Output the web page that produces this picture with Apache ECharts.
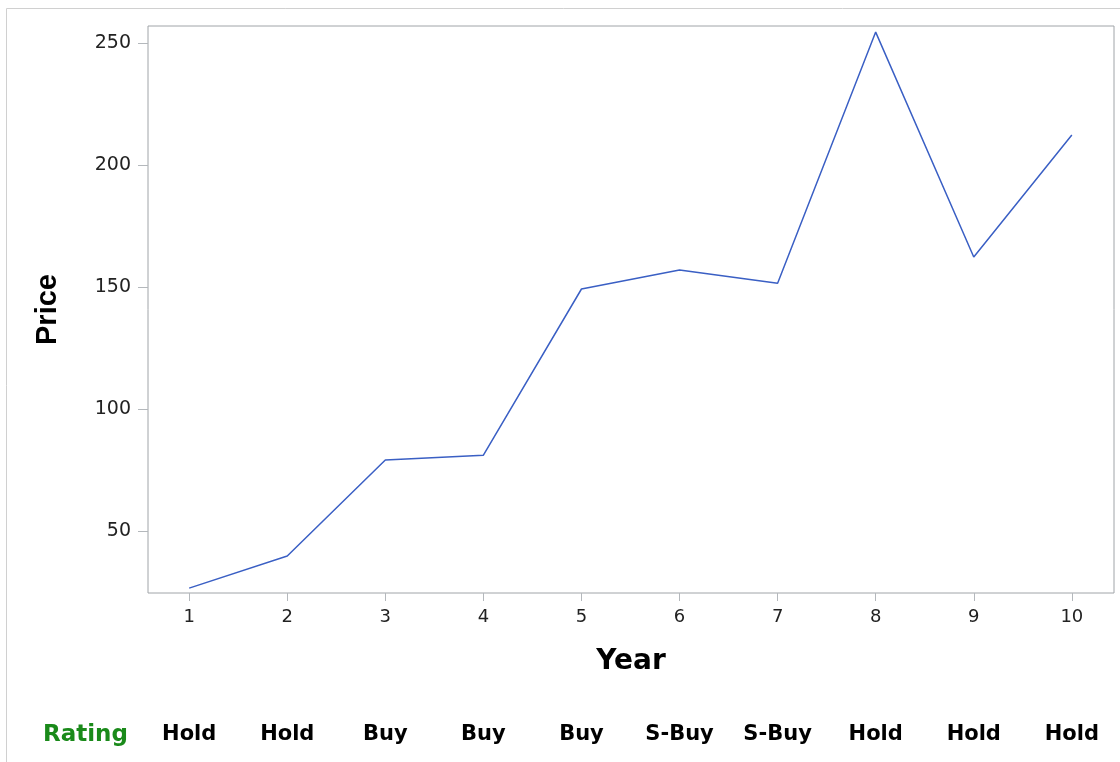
<!DOCTYPE html>
<html><head><meta charset="utf-8">
<script src="https://cdn.jsdelivr.net/npm/echarts@6/dist/echarts.min.js"></script>
<style>html,body{margin:0;padding:0;background:#fff}#c{width:1120px;height:762px}</style>
</head><body><div id="c"></div>
<script>
const years = [1,2,3,4,5,6,7,8,9,10];
const prices = [26.6,39.8,79.1,81.1,149.2,157,151.6,254.5,162.3,212.3];
const ratings = ['Hold','Hold','Buy','Buy','Buy','S-Buy','S-Buy','Hold','Hold','Hold'];
const yTicks = [50,100,150,200,250];

const chart = echarts.init(document.getElementById('c'));
const font = 'DejaVu Sans';
chart.setOption({
  animation:false,
  graphic:[
    {type:'rect', shape:{x:6.5,y:8.5,width:1130,height:800}, style:{fill:'none',stroke:'#d0d0d0',lineWidth:1}},
    {type:'text', left:43, top:724, style:{text:'Rating', fill:'#1a8a1a', font:'bold 23px "DejaVu Sans"'}}
  ],
  grid:{left:148,top:26,right:6,bottom:169, show:true, borderColor:'#a0a4a8', borderWidth:1},
  xAxis:[{
    type:'value', min:0.58, max:10.43,
    name:'Year', nameLocation:'middle', nameGap:55,
    nameTextStyle:{fontFamily:font, fontWeight:'bold', fontSize:28, color:'#000'},
    axisLine:{show:false},
    axisTick:{show:true, customValues:years, length:8, lineStyle:{color:'#b4b8bc'}},
    axisLabel:{customValues:years, fontFamily:font, fontSize:18, color:'#222', margin:15},
    splitLine:{show:false}
  },{
    type:'value', min:0.58, max:10.43, position:'bottom', offset:129, gridIndex:0,
    axisLine:{show:false}, axisTick:{show:false}, splitLine:{show:false},
    axisLabel:{customValues:years, formatter:v=>ratings[Math.round(v)-1]||'', fontFamily:font, fontWeight:'bold', fontSize:21, color:'#000', margin:2}
  }],
  yAxis:{
    type:'value', min:24.6, max:257,
    name:'Price', nameLocation:'middle', nameGap:86, nameRotate:90,
    nameTextStyle:{fontFamily:'Liberation Sans', fontWeight:'bold', fontSize:29, color:'#000'},
    axisLine:{show:false},
    axisTick:{show:true, customValues:yTicks, length:10, lineStyle:{color:'#b4b8bc'}},
    axisLabel:{customValues:yTicks, fontFamily:font, fontSize:19, color:'#222', margin:17},
    splitLine:{show:false}
  },
  series:[{
    type:'line', xAxisIndex:0, data:years.map((y,i)=>[y,prices[i]]),
    symbol:'none', lineStyle:{color:'#3a5fc4', width:1.5}
  }]
});
</script></body></html>
